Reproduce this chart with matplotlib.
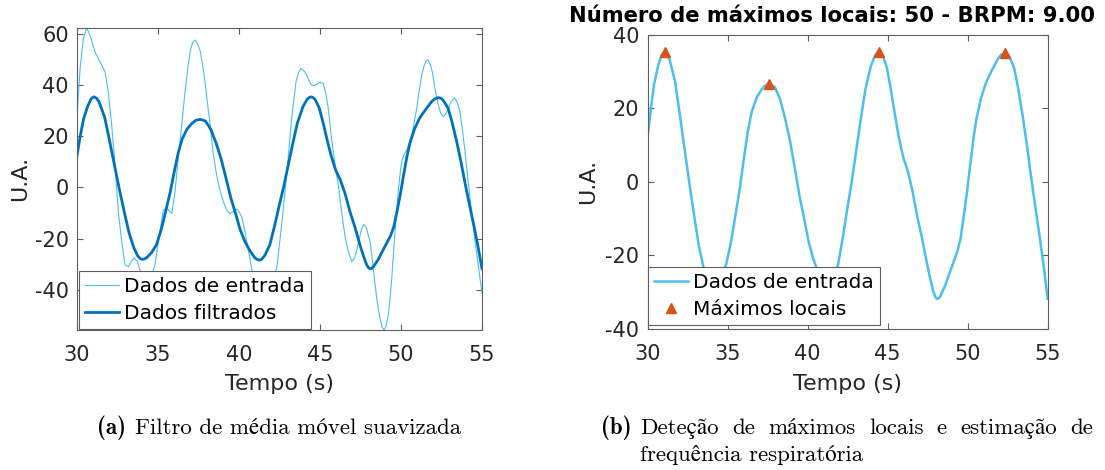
import matplotlib
matplotlib.use('Agg')
import matplotlib.pyplot as plt
from matplotlib import rcParams

rcParams['font.family'] = ['DejaVu Sans']
rcParams['axes.unicode_minus'] = False

# ---------------- data ----------------
t_raw = [30.0, 30.19, 30.39, 30.6, 30.8, 31.11, 31.42, 31.73, 31.93, 32.14, 32.35, 32.55,
         32.76, 32.96, 33.17, 33.35, 33.52, 33.7, 33.9, 34.1, 34.3, 34.5, 34.81, 35.12,
         35.33, 35.54, 35.7, 35.85, 36.05, 36.2, 36.36, 36.52, 36.67, 36.83, 36.98, 37.13,
         37.28, 37.44, 37.59, 37.75, 37.9, 38.05, 38.21, 38.41, 38.62, 38.83, 39.03, 39.24,
         39.44, 39.65, 39.86, 40.02, 40.17, 40.33, 40.48, 40.63, 40.78, 41.0, 41.3, 41.55,
         41.8, 42.05, 42.33, 42.63, 42.94, 43.1, 43.25, 43.4, 43.52, 43.66, 43.81, 44.0,
         44.18, 44.34, 44.49, 44.65, 44.8, 45.0, 45.2, 45.35, 45.51, 45.66, 45.82, 45.97,
         46.13, 46.28, 46.44, 46.6, 46.75, 46.96, 47.15, 47.36, 47.55, 47.7, 47.85, 48.0,
         48.09, 48.25, 48.4, 48.55, 48.7, 48.83, 48.95, 49.08, 49.22, 49.33, 49.43, 49.53,
         49.63, 49.73, 49.83, 49.94, 50.04, 50.2, 50.35, 50.5, 50.66, 50.82, 50.97, 51.12,
         51.28, 51.45, 51.6, 51.7, 51.8, 51.93, 52.1, 52.3, 52.45, 52.61, 52.76, 52.92,
         53.1, 53.29, 53.45, 53.64, 53.8, 53.95, 54.15, 54.36, 54.56, 54.77, 55.0]
v_raw = [26.9, 46.4, 58.1, 62.3, 59.4, 52.9, 49.0, 45.1, 37.3, 24.3, 8.7, -9.5,
         -21.2, -30.3, -31.0, -29.0, -27.6, -28.7, -32.5, -36.0, -38.0, -36.5, -30.3, -17.3,
         -8.9, -8.0, -9.2, -10.2, -1.7, 8.0, 17.8, 28.0, 37.3, 46.0, 52.9, 56.5,
         57.5, 56.0, 53.6, 48.0, 41.2, 33.0, 25.0, 13.0, 4.8, -1.5, -5.6, -8.9,
         -10.2, -9.5, -8.5, -9.8, -11.5, -16.0, -21.2, -26.5, -31.6, -38.0, -42.0, -43.0,
         -41.0, -37.0, -31.6, -14.7, 4.8, 16.0, 26.9, 35.0, 41.2, 44.5, 46.4, 45.5,
         43.8, 41.5, 39.9, 39.8, 40.2, 41.0, 40.5, 37.0, 30.8, 22.0, 13.9, 7.0,
         0.9, -7.0, -14.7, -21.0, -25.1, -29.0, -27.5, -22.0, -16.5, -14.5, -15.5, -19.0,
         -21.2, -29.0, -38.1, -45.5, -51.1, -54.5, -55.7, -54.0, -49.8, -43.0, -35.5, -26.5,
         -17.3, -9.5, -1.7, 5.0, 10.0, 13.0, 14.6, 17.0, 20.4, 25.5, 30.8, 37.5,
         43.8, 48.0, 49.7, 49.5, 48.0, 45.1, 38.5, 32.1, 29.0, 27.6, 28.5, 30.8,
         33.5, 35.0, 33.5, 29.5, 22.0, 13.9, 2.0, -9.5, -20.5, -30.3, -41.3]

t_filt = [30.0, 30.2, 30.4, 30.65, 30.85, 30.95, 31.05, 31.2, 31.35, 31.7, 32.0, 32.3,
          32.64, 32.95, 33.2, 33.5, 33.75, 33.9, 34.0, 34.15, 34.3, 34.6, 34.9, 35.2,
          35.45, 35.75, 36.0, 36.25, 36.5, 36.8, 37.1, 37.35, 37.6, 37.8, 37.95, 38.27,
          38.6, 38.9, 39.2, 39.5, 39.8, 40.06, 40.35, 40.65, 40.95, 41.1, 41.25, 41.4,
          41.6, 41.9, 42.2, 42.45, 42.75, 43.0, 43.3, 43.6, 43.95, 44.2, 44.35, 44.45,
          44.55, 44.7, 44.95, 45.2, 45.46, 45.7, 45.98, 46.25, 46.55, 46.85, 47.13, 47.4,
          47.64, 47.85, 47.98, 48.08, 48.18, 48.3, 48.58, 48.85, 49.1, 49.35, 49.55, 49.75,
          49.95, 50.14, 50.35, 50.56, 50.85, 51.15, 51.5, 51.9, 52.1, 52.3, 52.45, 52.6,
          52.9, 53.15, 53.45, 53.7, 53.92, 54.2, 54.5, 54.75, 55.0]
v_filt = [12.3, 20.0, 26.5, 31.5, 34.3, 35.0, 35.3, 34.8, 33.5, 27.5, 18.5, 9.0,
          -1.5, -10.5, -17.5, -23.5, -26.8, -27.8, -28.1, -28.0, -27.5, -25.5, -22.5, -16.5,
          -10.0, -2.0, 6.0, 13.5, 19.0, 22.8, 25.0, 26.2, 26.5, 26.2, 25.7, 22.5,
          17.0, 11.0, 3.5, -4.2, -10.5, -16.3, -21.0, -24.5, -27.3, -28.1, -28.4, -28.1,
          -26.5, -22.5, -15.0, -8.0, 0.0, 7.5, 16.5, 25.0, 31.5, 34.3, 35.1, 35.3,
          35.1, 34.3, 31.0, 25.0, 18.0, 12.0, 6.5, 3.0, -2.5, -9.5, -15.0, -21.0,
          -26.0, -29.8, -31.3, -31.8, -31.7, -31.0, -28.3, -25.0, -22.0, -19.0, -15.5, -9.5,
          -3.0, 4.0, 11.5, 17.5, 23.0, 27.0, 30.2, 33.5, 34.6, 35.0, 34.8, 34.0,
          31.0, 25.5, 17.5, 10.0, 2.7, -6.0, -15.0, -23.0, -31.8]

t_peaks = [31.05, 37.6, 44.45, 52.3]
v_peaks = [35.3, 26.5, 35.3, 35.0]

x_ticks = [30, 35, 40, 45, 50, 55]
y_ticks_a = [-40, -20, 0, 20, 40, 60]
y_ticks_b = [-40, -20, 0, 20, 40]

title_b = 'Número de máximos locais: 50 - BRPM: 9.00'
cap_a_label, cap_a_text = '(a)', 'Filtro de média móvel suavizada'
cap_b_label = '(b)'
cap_b_line1 = ['Deteção', 'de', 'máximos', 'locais', 'e', 'estimação', 'de']
cap_b_line2 = 'frequência respiratória'

# ---------------- style ----------------
C_RAW = '#4DBEEE'
C_FILT = '#0072BD'
C_PEAK = '#D95319'
C_AX = '#262626'
C_SPINE = '#5e5e5e'
TICK_FS = 15
LAB_FS = 16
LEG_FS = 14.5
CAP_FS = 16.5
CAP_REG = ['cmr10', 'STIXGeneral']
CAP_BOLD = ['cmb10', 'STIXGeneral']

W, H = 1105, 470
fig = plt.figure(figsize=(W / 100, H / 100), dpi=100)


def ax_rect(x0, y0, x1, y1):
    return [x0 / W, 1 - y1 / H, (x1 - x0) / W, (y1 - y0) / H]


ax1 = fig.add_axes(ax_rect(77, 27.7, 482, 330))
ax2 = fig.add_axes(ax_rect(647.7, 34.6, 1047.7, 329))

# left panel
ax1.plot(t_raw, v_raw, color=C_RAW, lw=0.8, label='Dados de entrada')
ax1.plot(t_filt, v_filt, color=C_FILT, lw=2.0, label='Dados filtrados')
ax1.set_xlim(30, 55)
ax1.set_ylim(min(v_raw), max(v_raw))
ax1.set_yticks(y_ticks_a)

# right panel
ax2.plot(t_filt, v_filt, color=C_RAW, lw=1.8, label='Dados de entrada')
ax2.plot(t_peaks, v_peaks, linestyle='none', marker='^', markersize=6.5,
         color=C_PEAK, markeredgecolor=C_PEAK, label='Máximos locais')
ax2.set_xlim(30, 55)
ax2.set_ylim(-40, 40)
ax2.set_yticks(y_ticks_b)

for ax, ylab_x, xlab_y in ((ax1, -0.1407, -0.1786), (ax2, -0.149, -0.187)):
    ax.set_xticks(x_ticks)
    for s in ax.spines.values():
        s.set_color(C_SPINE)
        s.set_linewidth(0.8)
    ax.tick_params(direction='in', length=4, width=0.8, color=C_SPINE,
                   top=True, right=True, labelsize=TICK_FS, labelcolor=C_AX, pad=6)
    ax.tick_params(axis='x', pad=11)
    ax.set_xlabel('Tempo (s)', fontsize=LAB_FS, color=C_AX)
    ax.set_ylabel('U.A.', fontsize=LAB_FS, color=C_AX)
    ax.xaxis.set_label_coords(0.5, xlab_y)
    ax.xaxis.label.set_va('center')
    ax.yaxis.set_label_coords(ylab_x, 0.5)
    ax.yaxis.label.set_va('center')

leg_kw = dict(loc='lower left', borderaxespad=0, fontsize=LEG_FS, frameon=True,
              fancybox=False, framealpha=1, edgecolor=C_SPINE, handlelength=1.7,
              handletextpad=0.25, labelspacing=0.4, borderpad=0.3, numpoints=1)
leg1 = ax1.legend(bbox_to_anchor=(0.005, 0.003), **leg_kw)
leg2 = ax2.legend(bbox_to_anchor=(0.0, 0.014), **leg_kw)
for lg in (leg1, leg2):
    lg.get_frame().set_linewidth(0.8)
    for txt in lg.get_texts():
        txt.set_color('black')

fig.text(832 / W, 1 - 22.5 / H, title_b, ha='center', va='baseline',
         fontsize=15.2, fontweight='bold', color='black')

# ---------------- captions ----------------
fig.canvas.draw()
renderer = fig.canvas.get_renderer()
em = CAP_FS * 100 / 72.0


def put(x_px, base_px, s, bold=False):
    t = fig.text(x_px / W, 1 - base_px / H, s, fontsize=CAP_FS,
                 family=CAP_BOLD if bold else CAP_REG,
                 ha='left', va='baseline', color='black')
    return t.get_window_extent(renderer=renderer).width


BASE1, BASE2 = 434, 461

wa = put(97, BASE1, cap_a_label, bold=True)
put(97 + wa + 0.38 * em, BASE1, cap_a_text)

wb = put(601, BASE1, cap_b_label, bold=True)
x_reg = 601 + wb + 0.38 * em
x_end = 1093
widths = []
for w in cap_b_line1:
    tt = fig.text(0, 0, w, fontsize=CAP_FS, family=CAP_REG)
    widths.append(tt.get_window_extent(renderer=renderer).width)
    tt.remove()
gap = (x_end - x_reg - sum(widths)) / (len(cap_b_line1) - 1)
x = x_reg
for w, wd in zip(cap_b_line1, widths):
    put(x, BASE1, w)
    x += wd + gap
put(x_reg, BASE2, cap_b_line2)

fig.savefig('out.png', dpi=100)
